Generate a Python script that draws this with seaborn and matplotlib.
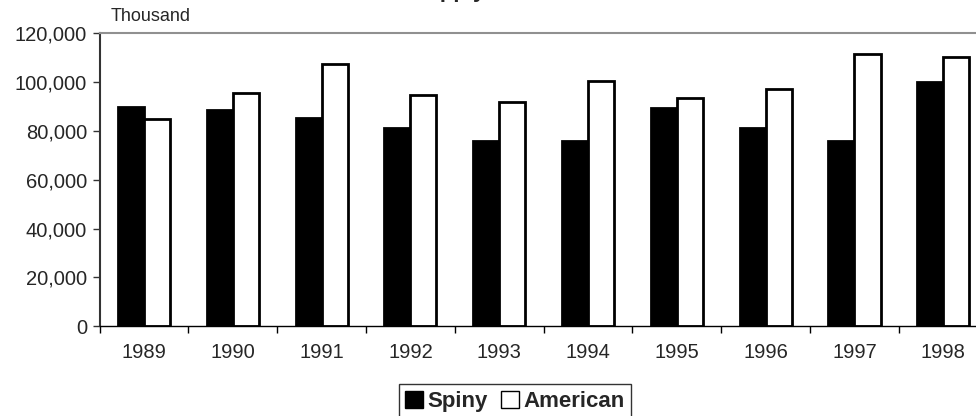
import pandas as pd
import matplotlib
matplotlib.use("Agg")
import matplotlib.pyplot as plt
import seaborn as sns
from matplotlib.ticker import FuncFormatter, FixedLocator
from matplotlib.patches import Patch

years = ["1989", "1990", "1991", "1992", "1993", "1994", "1995", "1996", "1997", "1998"]
spiny = [89800, 88700, 85300, 81000, 75800, 75800, 89200, 81100, 75700, 100200]
american = [85000, 95400, 107300, 94900, 91700, 100600, 93600, 97100, 111600, 110400]
series = ["Spiny", "American"]

df = pd.DataFrame({
    "Year": years * 2,
    "Value": spiny + american,
    "Species": ["Spiny"] * len(years) + ["American"] * len(years),
})

sns.set_style("white")
plt.rcParams["font.family"] = ["Liberation Sans", "DejaVu Sans"]

fig = plt.figure(figsize=(9.76, 4.16), dpi=100)
ax = fig.add_axes([0.102, 0.216, 0.91, 0.704])

sns.barplot(data=df, x="Year", y="Value", hue="Species", order=years,
            hue_order=series, palette={"Spiny": "black", "American": "white"},
            width=0.586, gap=0, edgecolor="black", linewidth=2,
            legend=False, ax=ax, saturation=1)

ax.set_xlim(-0.5, 9.5)
ax.set_ylim(0, 120000)
ax.set_yticks(range(0, 120001, 20000))
ax.yaxis.set_major_formatter(FuncFormatter(lambda v, p: f"{int(v):,}"))
ax.set_xlabel("")
ax.set_ylabel("")

# ticks sit between the categories, labels in the middle
ax.xaxis.set_minor_locator(FixedLocator([i - 0.5 for i in range(11)]))
ax.tick_params(axis="x", which="major", length=0, pad=12, labelsize=14.5)
ax.tick_params(axis="x", which="minor", length=5, width=1, color="black", direction="out")
ax.tick_params(axis="y", length=5, width=1, color="#333333", direction="out",
               labelsize=14.5, pad=4)
ax.tick_params(axis="both", bottom=True, left=True)
ax.xaxis.set_tick_params(which="minor", bottom=True)

ax.spines["top"].set_color("#909090")
ax.spines["top"].set_linewidth(1.5)
ax.spines["left"].set_color("#333333")
ax.spines["left"].set_linewidth(1.5)
ax.spines["bottom"].set_color("black")
ax.spines["bottom"].set_linewidth(1)
ax.spines["right"].set_color("black")

fig.text(0.113, 0.94, "Thousand", fontsize=13, ha="left", va="bottom")
fig.text(485 / 976, 0.995, "Lobster Supply", fontsize=16, fontweight="bold",
         ha="right", va="bottom")

handles = [Patch(facecolor="black", edgecolor="black", label="Spiny"),
           Patch(facecolor="white", edgecolor="black", label="American")]
leg = fig.legend(handles=handles, loc="center", bbox_to_anchor=(515 / 976, 0.035),
                 ncol=2, frameon=True, fancybox=False, handlelength=0.8,
                 handleheight=0.8, handletextpad=0.2, columnspacing=0.6,
                 borderpad=0.3, prop={"weight": "bold", "size": 16})
leg.get_frame().set_edgecolor("black")
leg.get_frame().set_linewidth(1)

fig.savefig("out.png", dpi=100)
